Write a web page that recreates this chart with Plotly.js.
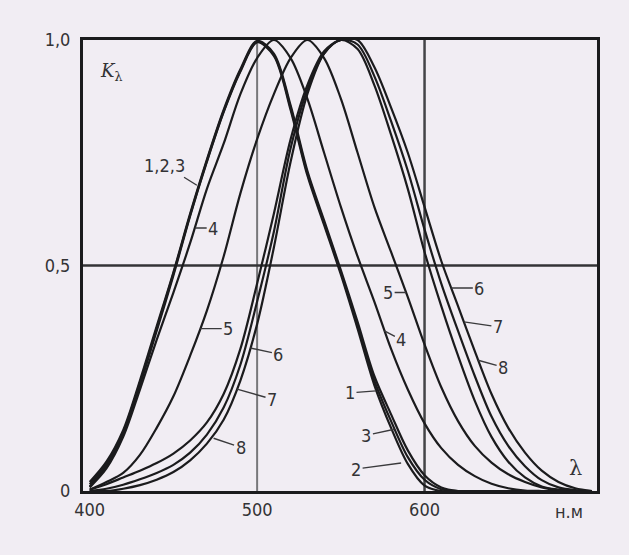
<!DOCTYPE html>
<html>
<head>
<meta charset="utf-8">
<script src="https://cdn.plot.ly/plotly-3.0.1.min.js"></script>
<style>
  html, body { margin: 0; padding: 0; background: #f1edf3; }
  #chart { width: 629px; height: 555px; }
</style>
</head>
<body>
<div id="chart"></div>
<script>
// Wavelength grid (nm)
const lambdaNm = [400,410,420,430,440,450,460,470,480,490,500,510,520,530,540,550,560,570,580,590,600,610,620,630,640,650,660,670,680,690,700];

// Relative spectral sensitivity K_lambda
const curve1 = [0.010,0.055,0.125,0.235,0.355,0.478,0.610,0.730,0.840,0.930,0.995,0.965,0.845,0.700,0.590,0.480,0.360,0.235,0.140,0.060,0.012,0.000,0,0,0,0,0,0,0,0,0];
const curve2 = [0.020,0.065,0.135,0.245,0.365,0.485,0.615,0.735,0.845,0.935,0.998,0.970,0.855,0.710,0.600,0.490,0.375,0.255,0.170,0.090,0.035,0.008,0.000,0,0,0,0,0,0,0,0];
const curve3 = [0.015,0.060,0.130,0.240,0.360,0.482,0.612,0.732,0.842,0.932,0.996,0.967,0.850,0.705,0.595,0.485,0.368,0.245,0.155,0.075,0.025,0.004,0.000,0,0,0,0,0,0,0,0];
const curve4 = [0.008,0.050,0.120,0.225,0.335,0.440,0.550,0.670,0.770,0.880,0.960,1.000,0.960,0.870,0.750,0.630,0.520,0.420,0.315,0.225,0.150,0.095,0.058,0.033,0.016,0.006,0.001,0,0,0,0];
const curve5 = [0.003,0.020,0.040,0.080,0.140,0.210,0.300,0.400,0.520,0.660,0.780,0.880,0.960,1.000,0.960,0.870,0.750,0.630,0.530,0.430,0.325,0.230,0.155,0.100,0.063,0.037,0.020,0.008,0.002,0,0];
const curve6 = [0,0,0.005,0.013,0.025,0.042,0.068,0.105,0.158,0.245,0.370,0.540,0.730,0.880,0.970,1.000,0.980,0.900,0.790,0.670,0.530,0.410,0.300,0.200,0.120,0.065,0.030,0.010,0.003,0,0];
const curve7 = [0,0.005,0.014,0.026,0.040,0.058,0.085,0.125,0.185,0.280,0.420,0.575,0.760,0.890,0.970,1.000,0.990,0.920,0.820,0.710,0.580,0.460,0.355,0.255,0.165,0.100,0.055,0.024,0.008,0.002,0];
const curve8 = [0.003,0.015,0.030,0.045,0.062,0.083,0.112,0.152,0.215,0.315,0.460,0.615,0.780,0.900,0.975,1.000,1.000,0.940,0.850,0.750,0.630,0.510,0.410,0.310,0.215,0.140,0.085,0.045,0.020,0.006,0];

const curveNames = ['1','2','3','4','5','6','7','8'];
const curves = [curve1, curve2, curve3, curve4, curve5, curve6, curve7, curve8];

const xTickVals = [400, 500, 600];
const xTickText = ['400', '500', '600'];
const yTickVals = [0, 0.5, 1];
const yTickText = ['0', '0,5', '1,0'];

const ink = '#1b1b1d';
const labelFont = { family: '"DejaVu Sans Condensed", "Liberation Sans Narrow", "Liberation Sans", sans-serif', size: 18, color: '#333335' };

const traces = curves.map((ys, i) => ({
  type: 'scatter', mode: 'lines', name: curveNames[i],
  x: lambdaNm, y: ys,
  line: { color: ink, width: 2.2, shape: 'spline', smoothing: 0.9 },
  hoverinfo: 'skip', showlegend: false
}));

function lab(text, x, y, ax, ay) {
  return { text, x, y, xref: 'x', yref: 'y', showarrow: true, arrowhead: 0,
           arrowwidth: 1.4, arrowcolor: '#3a3a3c', ax, ay, standoff: 0,
           font: labelFont };
}

const annotations = [
  lab('1,2,3', 464, 0.678, -32, -20),
  lab('4', 463, 0.583, 18, 0),
  lab('5', 466, 0.36, 28, 0),
  lab('6', 496, 0.317, 28, 6),
  lab('7', 488, 0.226, 35, 10),
  lab('8', 474, 0.117, 27, 9),
  lab('5', 589, 0.44, -18, 0),
  lab('4', 576, 0.355, 17, 9),
  lab('6', 616, 0.45, 28, 0),
  lab('7', 623.5, 0.375, 34, 5),
  lab('8', 632, 0.29, 25, 7),
  lab('1', 571, 0.222, -26, 2),
  lab('3', 582, 0.137, -28, 6),
  lab('2', 586, 0.062, -45, 6),
  { text: 'λ', x: 690, y: 0.05, xref: 'x', yref: 'y', showarrow: false,
    font: { family: '"DejaVu Serif", serif', size: 21, color: '#333335' } },
  { text: '<i>K</i><sub>λ</sub>', x: 412.5, y: 0.93, xref: 'x', yref: 'y', showarrow: false,
    font: { family: '"DejaVu Serif", serif', size: 18, color: '#333335' } },
  { text: 'н.м', x: 686, y: -0.045, xref: 'x', yref: 'paper', showarrow: false,
    yanchor: 'middle', font: labelFont }
];

const gridShapes = [
  { type: 'line', xref: 'x', yref: 'paper', x0: 500, x1: 500, y0: 0, y1: 1, line: { color: '#77777a', width: 2 }, layer: 'below' },
  { type: 'line', xref: 'x', yref: 'paper', x0: 600, x1: 600, y0: 0, y1: 1, line: { color: '#444447', width: 2.5 }, layer: 'below' },
  { type: 'line', xref: 'paper', yref: 'y', x0: 0, x1: 1, y0: 0.5, y1: 0.5, line: { color: '#333336', width: 2.5 }, layer: 'below' }
];

const layout = {
  width: 629, height: 555,
  margin: { l: 83, r: 32, t: 40, b: 64 },
  paper_bgcolor: '#f1edf3', plot_bgcolor: '#f1edf3',
  showlegend: false,
  xaxis: {
    range: [396, 703], tickvals: xTickVals, ticktext: xTickText,
    showgrid: false, zeroline: false, ticks: '',
    showline: true, mirror: true, linecolor: ink, linewidth: 3,
    tickfont: labelFont
  },
  yaxis: {
    range: [0, 1], tickvals: yTickVals, ticktext: yTickText,
    showgrid: false, zeroline: false, ticks: '', ticklabelstandoff: 6,
    showline: true, mirror: true, linecolor: ink, linewidth: 3,
    tickfont: labelFont
  },
  shapes: gridShapes,
  annotations
};

Plotly.newPlot('chart', traces, layout, { displayModeBar: false, staticPlot: true });
</script>
</body>
</html>
